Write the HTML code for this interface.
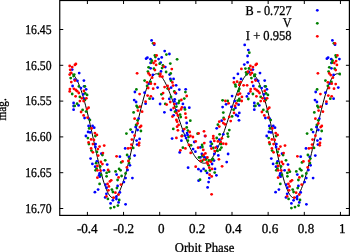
<!DOCTYPE html>
<html><head><meta charset="utf-8"><title>Light curve</title>
<style>
html,body{margin:0;padding:0;background:#fff;}
body{width:350px;height:252px;overflow:hidden;}
svg{display:block;}
text{text-rendering:geometricPrecision;stroke:#000;stroke-width:0.3px;font-family:"Liberation Serif","Times New Roman",serif;font-size:13.5px;fill:#000;}
.ax{stroke:#000;stroke-width:1.2;fill:none;}
.tk{stroke:#000;stroke-width:1;fill:none;}
.b{fill:#0000ff}.g{fill:#008000}.r{fill:#ff0000}
</style></head><body>
<svg width="350" height="252" viewBox="0 0 350 252">
<rect x="0" y="0" width="350" height="252" fill="#fff"/>

<path d="M69.32 72.83 L70.23 72.89 L71.14 73.16 L72.05 73.65 L72.95 74.37 L73.86 75.30 L74.77 76.45 L75.67 77.81 L76.58 79.39 L77.49 81.17 L78.39 83.17 L79.30 85.36 L80.21 87.75 L81.11 90.32 L82.02 93.08 L82.93 96.02 L83.83 99.12 L84.74 102.38 L85.65 105.79 L86.55 109.34 L87.46 113.01 L88.37 116.80 L89.27 120.69 L90.18 124.66 L91.09 128.71 L91.99 132.81 L92.90 136.95 L93.81 141.10 L94.71 145.26 L95.62 149.39 L96.53 153.49 L97.43 157.52 L98.34 161.46 L99.25 165.30 L100.16 169.01 L101.06 172.57 L101.97 175.97 L102.88 179.17 L103.78 182.17 L104.69 184.95 L105.60 187.48 L106.50 189.77 L107.41 191.79 L108.32 193.53 L109.22 194.99 L110.13 196.16 L111.04 197.04 L111.94 197.62 L112.85 197.90 L113.76 197.89 L114.66 197.59 L115.57 197.00 L116.48 196.12 L117.38 194.98 L118.29 193.57 L119.20 191.90 L120.10 189.99 L121.01 187.84 L121.92 185.46 L122.82 182.88 L123.73 180.10 L124.64 177.13 L125.54 173.98 L126.45 170.68 L127.36 167.23 L128.27 163.65 L129.17 159.95 L130.08 156.14 L130.99 152.25 L131.89 148.29 L132.80 144.27 L133.71 140.21 L134.61 136.13 L135.52 132.04 L136.43 127.97 L137.33 123.93 L138.24 119.94 L139.15 116.02 L140.05 112.18 L140.96 108.45 L141.87 104.83 L142.77 101.36 L143.68 98.04 L144.59 94.89 L145.49 91.93 L146.40 89.16 L147.31 86.59 L148.21 84.25 L149.12 82.13 L150.03 80.25 L150.93 78.60 L151.84 77.19 L152.75 76.03 L153.65 75.11 L154.56 74.43 L155.47 73.99 L156.38 73.78 L157.28 73.80 L158.19 74.05 L159.10 74.52 L160.00 75.19 L160.91 76.06 L161.82 77.12 L162.72 78.35 L163.63 79.76 L164.54 81.33 L165.44 83.05 L166.35 84.90 L167.26 86.88 L168.16 88.98 L169.07 91.18 L169.98 93.48 L170.88 95.86 L171.79 98.31 L172.70 100.82 L173.60 103.39 L174.51 105.99 L175.42 108.63 L176.32 111.29 L177.23 113.95 L178.14 116.62 L179.04 119.28 L179.95 121.92 L180.86 124.53 L181.76 127.11 L182.67 129.64 L183.58 132.12 L184.49 134.54 L185.39 136.89 L186.30 139.17 L187.21 141.38 L188.11 143.50 L189.02 145.53 L189.93 147.46 L190.83 149.30 L191.74 151.04 L192.65 152.68 L193.55 154.21 L194.46 155.62 L195.37 156.93 L196.27 158.11 L197.18 159.18 L198.09 160.13 L198.99 160.96 L199.90 161.66 L200.81 162.23 L201.71 162.67 L202.62 162.98 L203.53 163.16 L204.43 163.20 L205.34 163.10 L206.25 162.86 L207.15 162.49 L208.06 161.97 L208.97 161.31 L209.87 160.50 L210.78 159.56 L211.69 158.48 L212.60 157.26 L213.50 155.90 L214.41 154.41 L215.32 152.79 L216.22 151.05 L217.13 149.18 L218.04 147.20 L218.94 145.11 L219.85 142.92 L220.76 140.63 L221.66 138.25 L222.57 135.79 L223.48 133.26 L224.38 130.66 L225.29 128.00 L226.20 125.29 L227.10 122.55 L228.01 119.78 L228.92 116.98 L229.82 114.18 L230.73 111.38 L231.64 108.59 L232.54 105.83 L233.45 103.10 L234.36 100.42 L235.26 97.79 L236.17 95.23 L237.08 92.76 L237.98 90.38 L238.89 88.10 L239.80 85.95 L240.71 83.92 L241.61 82.03 L242.52 80.29 L243.43 78.71 L244.33 77.30 L245.24 76.07 L246.15 75.03 L247.05 74.18 L247.96 73.53 L248.87 73.09 L249.77 72.86 L250.68 72.84 L251.59 73.04 L252.49 73.46 L253.40 74.10 L254.31 74.96 L255.21 76.04 L256.12 77.33 L257.03 78.84 L257.93 80.56 L258.84 82.48 L259.75 84.61 L260.65 86.93 L261.56 89.44 L262.47 92.14 L263.37 95.02 L264.28 98.07 L265.19 101.28 L266.09 104.64 L267.00 108.14 L267.91 111.77 L268.81 115.52 L269.72 119.38 L270.63 123.33 L271.54 127.35 L272.44 131.44 L273.35 135.57 L274.26 139.72 L275.16 143.88 L276.07 148.02 L276.98 152.13 L277.88 156.18 L278.79 160.16 L279.70 164.03 L280.60 167.79 L281.51 171.40 L282.42 174.85 L283.32 178.12 L284.23 181.19 L285.14 184.05 L286.04 186.67 L286.95 189.03 L287.86 191.14 L288.76 192.98 L289.67 194.53 L290.58 195.80 L291.48 196.78 L292.39 197.46 L293.30 197.84 L294.20 197.93 L295.11 197.72 L296.02 197.22 L296.92 196.44 L297.83 195.39 L298.74 194.07 L299.65 192.48 L300.55 190.65 L301.46 188.58 L302.37 186.28 L303.27 183.76 L304.18 181.05 L305.09 178.14 L305.99 175.05 L306.90 171.80 L307.81 168.40 L308.71 164.86 L309.62 161.19 L310.53 157.42 L311.43 153.56 L312.34 149.62 L313.25 145.61 L314.15 141.57 L315.06 137.49 L315.97 133.41 L316.87 129.33 L317.78 125.27 L318.69 121.26 L319.59 117.32 L320.50 113.45 L321.41 109.68 L322.31 106.02 L323.22 102.50 L324.13 99.13 L325.03 95.92 L325.94 92.89 L326.85 90.06 L327.76 87.42 L328.66 85.01 L329.57 82.81 L330.48 80.85 L331.38 79.12 L332.29 77.63 L333.20 76.39 L334.10 75.39 L335.01 74.63 L335.92 74.11 L336.82 73.82 L337.73 73.77 L338.64 73.95 L339.54 74.34 L340.45 74.94" stroke="#000" stroke-width="1.0" fill="none" stroke-linejoin="round"/>
<g class="b">
<circle cx="164.7" cy="51.1" r="1.4"/>
<circle cx="169.4" cy="54.0" r="1.4"/>
<circle cx="161.7" cy="57.4" r="1.4"/>
<circle cx="160.7" cy="62.6" r="1.4"/>
<circle cx="165.3" cy="67.1" r="1.4"/>
<circle cx="161.0" cy="71.4" r="1.4"/>
<circle cx="169.6" cy="74.6" r="1.4"/>
<circle cx="170.4" cy="78.9" r="1.4"/>
<circle cx="173.6" cy="78.9" r="1.4"/>
<circle cx="176.1" cy="85.3" r="1.4"/>
<circle cx="171.1" cy="87.7" r="1.4"/>
<circle cx="179.3" cy="89.6" r="1.4"/>
<circle cx="185.7" cy="89.3" r="1.4"/>
<circle cx="175.9" cy="93.4" r="1.4"/>
<circle cx="169.3" cy="98.9" r="1.4"/>
<circle cx="174.7" cy="99.3" r="1.4"/>
<circle cx="174.3" cy="101.3" r="1.4"/>
<circle cx="160.1" cy="104.0" r="1.4"/>
<circle cx="176.4" cy="103.7" r="1.4"/>
<circle cx="182.9" cy="103.9" r="1.4"/>
<circle cx="184.6" cy="107.7" r="1.4"/>
<circle cx="189.3" cy="107.7" r="1.4"/>
<circle cx="171.0" cy="109.9" r="1.4"/>
<circle cx="176.4" cy="110.3" r="1.4"/>
<circle cx="164.4" cy="112.3" r="1.4"/>
<circle cx="173.6" cy="115.3" r="1.4"/>
<circle cx="186.7" cy="123.0" r="1.4"/>
<circle cx="182.9" cy="131.0" r="1.4"/>
<circle cx="187.1" cy="133.1" r="1.4"/>
<circle cx="187.6" cy="135.1" r="1.4"/>
<circle cx="185.0" cy="135.6" r="1.4"/>
<circle cx="172.1" cy="138.6" r="1.4"/>
<circle cx="186.1" cy="138.1" r="1.4"/>
<circle cx="181.4" cy="140.7" r="1.4"/>
<circle cx="194.3" cy="142.0" r="1.4"/>
<circle cx="210.7" cy="142.0" r="1.4"/>
<circle cx="210.7" cy="146.0" r="1.4"/>
<circle cx="200.4" cy="147.4" r="1.4"/>
<circle cx="193.1" cy="149.1" r="1.4"/>
<circle cx="179.7" cy="152.4" r="1.4"/>
<circle cx="195.4" cy="151.7" r="1.4"/>
<circle cx="201.9" cy="153.9" r="1.4"/>
<circle cx="214.3" cy="153.9" r="1.4"/>
<circle cx="200.4" cy="157.4" r="1.4"/>
<circle cx="204.4" cy="157.2" r="1.4"/>
<circle cx="212.1" cy="164.0" r="1.4"/>
<circle cx="214.0" cy="160.6" r="1.4"/>
<circle cx="188.1" cy="167.7" r="1.4"/>
<circle cx="198.4" cy="169.2" r="1.4"/>
<circle cx="203.6" cy="168.9" r="1.4"/>
<circle cx="201.0" cy="171.0" r="1.4"/>
<circle cx="226.7" cy="162.1" r="1.4"/>
<circle cx="215.0" cy="168.9" r="1.4"/>
<circle cx="207.1" cy="172.9" r="1.4"/>
<circle cx="216.4" cy="175.3" r="1.4"/>
<circle cx="209.3" cy="178.1" r="1.4"/>
<circle cx="198.6" cy="180.7" r="1.4"/>
<circle cx="208.6" cy="182.1" r="1.4"/>
<circle cx="207.6" cy="187.4" r="1.4"/>
<circle cx="216.7" cy="128.3" r="1.4"/>
<circle cx="223.3" cy="134.3" r="1.4"/>
<circle cx="205.0" cy="136.1" r="1.4"/>
<circle cx="219.3" cy="139.7" r="1.4"/>
<circle cx="217.1" cy="146.6" r="1.4"/>
<circle cx="228.1" cy="154.0" r="1.4"/>
<circle cx="218.3" cy="155.4" r="1.4"/>
<circle cx="206.4" cy="158.0" r="1.4"/>
<circle cx="232.1" cy="96.1" r="1.4"/>
<circle cx="248.6" cy="93.6" r="1.4"/>
<circle cx="246.9" cy="96.4" r="1.4"/>
<circle cx="254.3" cy="102.9" r="1.4"/>
<circle cx="254.3" cy="106.0" r="1.4"/>
<circle cx="254.3" cy="109.7" r="1.4"/>
<circle cx="234.7" cy="101.1" r="1.4"/>
<circle cx="226.1" cy="104.3" r="1.4"/>
<circle cx="238.6" cy="104.7" r="1.4"/>
<circle cx="222.6" cy="107.1" r="1.4"/>
<circle cx="231.4" cy="106.9" r="1.4"/>
<circle cx="235.4" cy="107.9" r="1.4"/>
<circle cx="239.3" cy="112.9" r="1.4"/>
<circle cx="236.1" cy="115.0" r="1.4"/>
<circle cx="237.9" cy="116.0" r="1.4"/>
<circle cx="221.7" cy="120.7" r="1.4"/>
<circle cx="239.0" cy="120.3" r="1.4"/>
<circle cx="247.6" cy="56.0" r="1.4"/>
<circle cx="247.6" cy="62.4" r="1.4"/>
<circle cx="244.3" cy="64.6" r="1.4"/>
<circle cx="252.9" cy="69.6" r="1.4"/>
<circle cx="249.0" cy="72.0" r="1.4"/>
<circle cx="237.9" cy="73.9" r="1.4"/>
<circle cx="260.0" cy="73.1" r="1.4"/>
<circle cx="233.9" cy="78.1" r="1.4"/>
<circle cx="241.1" cy="78.9" r="1.4"/>
<circle cx="255.4" cy="79.6" r="1.4"/>
<circle cx="258.2" cy="80.8" r="1.4"/>
<circle cx="264.7" cy="80.6" r="1.4"/>
<circle cx="253.3" cy="86.0" r="1.4"/>
<circle cx="261.6" cy="88.1" r="1.4"/>
<circle cx="264.9" cy="86.3" r="1.4"/>
<circle cx="266.9" cy="89.3" r="1.4"/>
<circle cx="244.7" cy="44.9" r="1.4"/>
<circle cx="248.3" cy="50.1" r="1.4"/>
<circle cx="264.0" cy="94.4" r="1.4"/>
<circle cx="265.0" cy="98.7" r="1.4"/>
<circle cx="259.3" cy="105.4" r="1.4"/>
<circle cx="265.4" cy="118.0" r="1.4"/>
<circle cx="269.7" cy="118.7" r="1.4"/>
<circle cx="269.3" cy="126.0" r="1.4"/>
<circle cx="273.3" cy="126.0" r="1.4"/>
<circle cx="275.0" cy="127.7" r="1.4"/>
<circle cx="268.9" cy="132.0" r="1.4"/>
<circle cx="271.0" cy="132.4" r="1.4"/>
<circle cx="266.7" cy="136.0" r="1.4"/>
<circle cx="276.4" cy="144.1" r="1.4"/>
<circle cx="276.1" cy="147.0" r="1.4"/>
<circle cx="282.1" cy="153.7" r="1.4"/>
<circle cx="300.7" cy="156.7" r="1.4"/>
<circle cx="271.3" cy="158.6" r="1.4"/>
<circle cx="277.6" cy="161.3" r="1.4"/>
<circle cx="273.1" cy="163.9" r="1.4"/>
<circle cx="288.0" cy="164.6" r="1.4"/>
<circle cx="310.6" cy="165.3" r="1.4"/>
<circle cx="276.0" cy="166.7" r="1.4"/>
<circle cx="284.6" cy="170.3" r="1.4"/>
<circle cx="308.4" cy="170.0" r="1.4"/>
<circle cx="280.3" cy="173.4" r="1.4"/>
<circle cx="297.3" cy="174.6" r="1.4"/>
<circle cx="279.9" cy="175.3" r="1.4"/>
<circle cx="280.6" cy="176.7" r="1.4"/>
<circle cx="306.3" cy="178.1" r="1.4"/>
<circle cx="304.6" cy="182.1" r="1.4"/>
<circle cx="286.3" cy="184.6" r="1.4"/>
<circle cx="298.4" cy="186.0" r="1.4"/>
<circle cx="287.4" cy="187.7" r="1.4"/>
<circle cx="278.9" cy="189.6" r="1.4"/>
<circle cx="275.6" cy="192.2" r="1.4"/>
<circle cx="300.7" cy="192.4" r="1.4"/>
<circle cx="287.2" cy="193.8" r="1.4"/>
<circle cx="297.1" cy="196.7" r="1.4"/>
<circle cx="286.0" cy="197.4" r="1.4"/>
<circle cx="297.1" cy="199.1" r="1.4"/>
<circle cx="293.6" cy="200.3" r="1.4"/>
<circle cx="299.3" cy="202.4" r="1.4"/>
<circle cx="291.4" cy="203.4" r="1.4"/>
<circle cx="306.4" cy="204.3" r="1.4"/>
<circle cx="316.4" cy="127.1" r="1.4"/>
<circle cx="313.1" cy="178.1" r="1.4"/>
<circle cx="318.3" cy="130.0" r="1.4"/>
<circle cx="313.1" cy="132.1" r="1.4"/>
<circle cx="320.4" cy="138.9" r="1.4"/>
<circle cx="317.4" cy="140.6" r="1.4"/>
<circle cx="317.9" cy="144.6" r="1.4"/>
<circle cx="306.0" cy="148.4" r="1.4"/>
<circle cx="315.3" cy="155.6" r="1.4"/>
<circle cx="309.7" cy="157.0" r="1.4"/>
<circle cx="315.7" cy="92.0" r="1.4"/>
<circle cx="325.4" cy="92.7" r="1.4"/>
<circle cx="333.6" cy="98.7" r="1.4"/>
<circle cx="315.0" cy="100.1" r="1.4"/>
<circle cx="316.9" cy="102.0" r="1.4"/>
<circle cx="326.4" cy="103.7" r="1.4"/>
<circle cx="319.3" cy="118.7" r="1.4"/>
<circle cx="326.9" cy="58.7" r="1.4"/>
<circle cx="331.3" cy="59.2" r="1.4"/>
<circle cx="339.4" cy="59.1" r="1.4"/>
<circle cx="331.4" cy="68.3" r="1.4"/>
<circle cx="333.6" cy="74.9" r="1.4"/>
<circle cx="329.7" cy="83.7" r="1.4"/>
<circle cx="338.3" cy="87.6" r="1.4"/>
<circle cx="332.4" cy="40.4" r="1.4"/>
<circle cx="335.0" cy="44.7" r="1.4"/>
<circle cx="328.1" cy="57.7" r="1.4"/>
<circle cx="331.4" cy="62.9" r="1.4"/>
<circle cx="73.6" cy="102.9" r="1.4"/>
<circle cx="73.6" cy="106.0" r="1.4"/>
<circle cx="73.6" cy="109.7" r="1.4"/>
<circle cx="72.2" cy="69.6" r="1.4"/>
<circle cx="79.2" cy="73.1" r="1.4"/>
<circle cx="74.7" cy="79.6" r="1.4"/>
<circle cx="77.4" cy="80.8" r="1.4"/>
<circle cx="83.9" cy="80.6" r="1.4"/>
<circle cx="72.6" cy="86.0" r="1.4"/>
<circle cx="80.9" cy="88.1" r="1.4"/>
<circle cx="84.1" cy="86.3" r="1.4"/>
<circle cx="86.1" cy="89.3" r="1.4"/>
<circle cx="83.2" cy="94.4" r="1.4"/>
<circle cx="84.2" cy="98.7" r="1.4"/>
<circle cx="78.6" cy="105.4" r="1.4"/>
<circle cx="84.6" cy="118.0" r="1.4"/>
<circle cx="88.9" cy="118.7" r="1.4"/>
<circle cx="88.6" cy="126.0" r="1.4"/>
<circle cx="92.6" cy="126.0" r="1.4"/>
<circle cx="94.2" cy="127.7" r="1.4"/>
<circle cx="88.1" cy="132.0" r="1.4"/>
<circle cx="90.2" cy="132.4" r="1.4"/>
<circle cx="85.9" cy="136.0" r="1.4"/>
<circle cx="95.6" cy="144.1" r="1.4"/>
<circle cx="95.4" cy="147.0" r="1.4"/>
<circle cx="101.4" cy="153.7" r="1.4"/>
<circle cx="119.9" cy="156.7" r="1.4"/>
<circle cx="90.6" cy="158.6" r="1.4"/>
<circle cx="96.9" cy="161.3" r="1.4"/>
<circle cx="92.4" cy="163.9" r="1.4"/>
<circle cx="107.2" cy="164.6" r="1.4"/>
<circle cx="129.9" cy="165.3" r="1.4"/>
<circle cx="95.2" cy="166.7" r="1.4"/>
<circle cx="103.9" cy="170.3" r="1.4"/>
<circle cx="127.6" cy="170.0" r="1.4"/>
<circle cx="99.6" cy="173.4" r="1.4"/>
<circle cx="116.6" cy="174.6" r="1.4"/>
<circle cx="99.1" cy="175.3" r="1.4"/>
<circle cx="99.9" cy="176.7" r="1.4"/>
<circle cx="125.6" cy="178.1" r="1.4"/>
<circle cx="123.9" cy="182.1" r="1.4"/>
<circle cx="105.6" cy="184.6" r="1.4"/>
<circle cx="117.6" cy="186.0" r="1.4"/>
<circle cx="106.6" cy="187.7" r="1.4"/>
<circle cx="98.1" cy="189.6" r="1.4"/>
<circle cx="94.9" cy="192.2" r="1.4"/>
<circle cx="119.9" cy="192.4" r="1.4"/>
<circle cx="106.4" cy="193.8" r="1.4"/>
<circle cx="116.4" cy="196.7" r="1.4"/>
<circle cx="105.2" cy="197.4" r="1.4"/>
<circle cx="116.4" cy="199.1" r="1.4"/>
<circle cx="112.9" cy="200.3" r="1.4"/>
<circle cx="118.6" cy="202.4" r="1.4"/>
<circle cx="110.6" cy="203.4" r="1.4"/>
<circle cx="125.6" cy="204.3" r="1.4"/>
<circle cx="135.6" cy="127.1" r="1.4"/>
<circle cx="132.4" cy="178.1" r="1.4"/>
<circle cx="137.6" cy="130.0" r="1.4"/>
<circle cx="132.4" cy="132.1" r="1.4"/>
<circle cx="139.6" cy="138.9" r="1.4"/>
<circle cx="136.6" cy="140.6" r="1.4"/>
<circle cx="137.1" cy="144.6" r="1.4"/>
<circle cx="125.2" cy="148.4" r="1.4"/>
<circle cx="134.6" cy="155.6" r="1.4"/>
<circle cx="128.9" cy="157.0" r="1.4"/>
<circle cx="134.9" cy="92.0" r="1.4"/>
<circle cx="144.6" cy="92.7" r="1.4"/>
<circle cx="152.9" cy="98.7" r="1.4"/>
<circle cx="134.2" cy="100.1" r="1.4"/>
<circle cx="136.1" cy="102.0" r="1.4"/>
<circle cx="145.6" cy="103.7" r="1.4"/>
<circle cx="138.6" cy="118.7" r="1.4"/>
<circle cx="146.1" cy="58.7" r="1.4"/>
<circle cx="150.6" cy="59.2" r="1.4"/>
<circle cx="158.6" cy="59.1" r="1.4"/>
<circle cx="150.6" cy="68.3" r="1.4"/>
<circle cx="152.9" cy="74.9" r="1.4"/>
<circle cx="148.9" cy="83.7" r="1.4"/>
<circle cx="157.6" cy="87.6" r="1.4"/>
<circle cx="151.6" cy="40.4" r="1.4"/>
<circle cx="154.2" cy="44.7" r="1.4"/>
<circle cx="147.4" cy="57.7" r="1.4"/>
<circle cx="150.6" cy="62.9" r="1.4"/>
<circle cx="317.3" cy="10.3" r="1.4"/>
</g>
<g class="g">
<circle cx="166.4" cy="54.6" r="1.4"/>
<circle cx="177.1" cy="59.3" r="1.4"/>
<circle cx="159.7" cy="63.7" r="1.4"/>
<circle cx="170.3" cy="63.6" r="1.4"/>
<circle cx="162.9" cy="65.4" r="1.4"/>
<circle cx="162.1" cy="68.1" r="1.4"/>
<circle cx="166.1" cy="72.0" r="1.4"/>
<circle cx="170.7" cy="73.4" r="1.4"/>
<circle cx="171.0" cy="80.7" r="1.4"/>
<circle cx="167.6" cy="88.6" r="1.4"/>
<circle cx="185.4" cy="92.1" r="1.4"/>
<circle cx="174.3" cy="91.4" r="1.4"/>
<circle cx="161.4" cy="94.3" r="1.4"/>
<circle cx="171.0" cy="96.9" r="1.4"/>
<circle cx="184.3" cy="98.6" r="1.4"/>
<circle cx="179.3" cy="100.9" r="1.4"/>
<circle cx="165.3" cy="103.9" r="1.4"/>
<circle cx="178.6" cy="103.1" r="1.4"/>
<circle cx="176.4" cy="106.6" r="1.4"/>
<circle cx="185.0" cy="109.4" r="1.4"/>
<circle cx="175.0" cy="111.7" r="1.4"/>
<circle cx="180.0" cy="114.6" r="1.4"/>
<circle cx="180.7" cy="117.0" r="1.4"/>
<circle cx="190.3" cy="120.7" r="1.4"/>
<circle cx="186.7" cy="127.4" r="1.4"/>
<circle cx="173.3" cy="128.9" r="1.4"/>
<circle cx="187.9" cy="130.6" r="1.4"/>
<circle cx="197.6" cy="133.7" r="1.4"/>
<circle cx="182.1" cy="135.7" r="1.4"/>
<circle cx="188.6" cy="137.1" r="1.4"/>
<circle cx="187.9" cy="140.7" r="1.4"/>
<circle cx="202.1" cy="144.9" r="1.4"/>
<circle cx="191.0" cy="145.3" r="1.4"/>
<circle cx="211.9" cy="143.9" r="1.4"/>
<circle cx="182.9" cy="147.7" r="1.4"/>
<circle cx="202.4" cy="147.1" r="1.4"/>
<circle cx="202.4" cy="156.0" r="1.4"/>
<circle cx="199.0" cy="157.4" r="1.4"/>
<circle cx="205.9" cy="159.6" r="1.4"/>
<circle cx="202.3" cy="160.8" r="1.4"/>
<circle cx="208.9" cy="160.5" r="1.4"/>
<circle cx="211.9" cy="160.2" r="1.4"/>
<circle cx="208.6" cy="165.3" r="1.4"/>
<circle cx="212.9" cy="158.9" r="1.4"/>
<circle cx="205.7" cy="170.8" r="1.4"/>
<circle cx="209.9" cy="170.4" r="1.4"/>
<circle cx="214.7" cy="172.6" r="1.4"/>
<circle cx="200.0" cy="179.7" r="1.4"/>
<circle cx="217.9" cy="124.7" r="1.4"/>
<circle cx="229.3" cy="130.1" r="1.4"/>
<circle cx="219.6" cy="134.3" r="1.4"/>
<circle cx="227.6" cy="133.7" r="1.4"/>
<circle cx="228.1" cy="136.6" r="1.4"/>
<circle cx="216.7" cy="138.0" r="1.4"/>
<circle cx="221.0" cy="144.0" r="1.4"/>
<circle cx="213.3" cy="148.0" r="1.4"/>
<circle cx="221.4" cy="147.6" r="1.4"/>
<circle cx="220.0" cy="149.7" r="1.4"/>
<circle cx="217.6" cy="150.9" r="1.4"/>
<circle cx="238.6" cy="91.1" r="1.4"/>
<circle cx="239.3" cy="98.9" r="1.4"/>
<circle cx="252.9" cy="94.0" r="1.4"/>
<circle cx="248.3" cy="99.0" r="1.4"/>
<circle cx="222.6" cy="100.3" r="1.4"/>
<circle cx="227.7" cy="100.9" r="1.4"/>
<circle cx="237.6" cy="100.7" r="1.4"/>
<circle cx="239.6" cy="100.6" r="1.4"/>
<circle cx="233.6" cy="109.7" r="1.4"/>
<circle cx="223.3" cy="112.6" r="1.4"/>
<circle cx="232.1" cy="116.4" r="1.4"/>
<circle cx="223.6" cy="117.9" r="1.4"/>
<circle cx="245.4" cy="68.6" r="1.4"/>
<circle cx="249.0" cy="68.5" r="1.4"/>
<circle cx="246.1" cy="72.4" r="1.4"/>
<circle cx="246.7" cy="74.3" r="1.4"/>
<circle cx="255.0" cy="74.6" r="1.4"/>
<circle cx="254.3" cy="76.0" r="1.4"/>
<circle cx="251.4" cy="78.1" r="1.4"/>
<circle cx="239.7" cy="83.1" r="1.4"/>
<circle cx="235.3" cy="84.6" r="1.4"/>
<circle cx="235.7" cy="86.4" r="1.4"/>
<circle cx="259.6" cy="86.4" r="1.4"/>
<circle cx="265.7" cy="86.4" r="1.4"/>
<circle cx="239.3" cy="88.9" r="1.4"/>
<circle cx="249.3" cy="52.7" r="1.4"/>
<circle cx="266.0" cy="93.4" r="1.4"/>
<circle cx="267.9" cy="94.9" r="1.4"/>
<circle cx="260.7" cy="96.9" r="1.4"/>
<circle cx="265.7" cy="100.1" r="1.4"/>
<circle cx="257.9" cy="103.7" r="1.4"/>
<circle cx="255.4" cy="105.9" r="1.4"/>
<circle cx="263.3" cy="109.9" r="1.4"/>
<circle cx="266.9" cy="111.6" r="1.4"/>
<circle cx="270.7" cy="120.1" r="1.4"/>
<circle cx="270.0" cy="128.4" r="1.4"/>
<circle cx="276.1" cy="136.0" r="1.4"/>
<circle cx="268.6" cy="138.1" r="1.4"/>
<circle cx="269.7" cy="144.1" r="1.4"/>
<circle cx="272.1" cy="150.6" r="1.4"/>
<circle cx="277.6" cy="152.0" r="1.4"/>
<circle cx="283.1" cy="155.1" r="1.4"/>
<circle cx="286.0" cy="160.3" r="1.4"/>
<circle cx="276.9" cy="163.2" r="1.4"/>
<circle cx="302.0" cy="162.4" r="1.4"/>
<circle cx="309.9" cy="163.1" r="1.4"/>
<circle cx="281.0" cy="166.5" r="1.4"/>
<circle cx="277.4" cy="168.6" r="1.4"/>
<circle cx="299.9" cy="168.9" r="1.4"/>
<circle cx="276.3" cy="170.3" r="1.4"/>
<circle cx="301.3" cy="170.3" r="1.4"/>
<circle cx="296.3" cy="171.4" r="1.4"/>
<circle cx="289.9" cy="171.7" r="1.4"/>
<circle cx="287.4" cy="172.9" r="1.4"/>
<circle cx="306.3" cy="173.4" r="1.4"/>
<circle cx="282.0" cy="174.9" r="1.4"/>
<circle cx="287.4" cy="176.3" r="1.4"/>
<circle cx="302.3" cy="176.0" r="1.4"/>
<circle cx="298.4" cy="180.0" r="1.4"/>
<circle cx="280.3" cy="183.9" r="1.4"/>
<circle cx="297.7" cy="188.1" r="1.4"/>
<circle cx="292.7" cy="189.6" r="1.4"/>
<circle cx="293.6" cy="192.0" r="1.4"/>
<circle cx="288.6" cy="198.9" r="1.4"/>
<circle cx="300.0" cy="199.9" r="1.4"/>
<circle cx="298.6" cy="205.6" r="1.4"/>
<circle cx="295.0" cy="207.1" r="1.4"/>
<circle cx="291.4" cy="208.1" r="1.4"/>
<circle cx="311.4" cy="129.6" r="1.4"/>
<circle cx="321.7" cy="131.0" r="1.4"/>
<circle cx="307.1" cy="133.6" r="1.4"/>
<circle cx="314.0" cy="147.9" r="1.4"/>
<circle cx="307.9" cy="155.0" r="1.4"/>
<circle cx="310.4" cy="158.6" r="1.4"/>
<circle cx="330.3" cy="98.7" r="1.4"/>
<circle cx="317.4" cy="105.9" r="1.4"/>
<circle cx="318.3" cy="107.4" r="1.4"/>
<circle cx="314.3" cy="112.4" r="1.4"/>
<circle cx="318.3" cy="120.3" r="1.4"/>
<circle cx="316.9" cy="124.9" r="1.4"/>
<circle cx="332.6" cy="60.7" r="1.4"/>
<circle cx="332.1" cy="62.6" r="1.4"/>
<circle cx="329.3" cy="67.3" r="1.4"/>
<circle cx="334.7" cy="68.7" r="1.4"/>
<circle cx="328.6" cy="71.6" r="1.4"/>
<circle cx="339.7" cy="74.0" r="1.4"/>
<circle cx="325.4" cy="80.6" r="1.4"/>
<circle cx="331.4" cy="82.0" r="1.4"/>
<circle cx="327.9" cy="85.9" r="1.4"/>
<circle cx="317.1" cy="89.4" r="1.4"/>
<circle cx="333.9" cy="43.3" r="1.4"/>
<circle cx="335.7" cy="55.4" r="1.4"/>
<circle cx="336.1" cy="57.1" r="1.4"/>
<circle cx="72.2" cy="94.0" r="1.4"/>
<circle cx="74.2" cy="74.6" r="1.4"/>
<circle cx="73.6" cy="76.0" r="1.4"/>
<circle cx="70.7" cy="78.1" r="1.4"/>
<circle cx="78.9" cy="86.4" r="1.4"/>
<circle cx="84.9" cy="86.4" r="1.4"/>
<circle cx="85.2" cy="93.4" r="1.4"/>
<circle cx="87.1" cy="94.9" r="1.4"/>
<circle cx="79.9" cy="96.9" r="1.4"/>
<circle cx="84.9" cy="100.1" r="1.4"/>
<circle cx="77.1" cy="103.7" r="1.4"/>
<circle cx="74.7" cy="105.9" r="1.4"/>
<circle cx="82.6" cy="109.9" r="1.4"/>
<circle cx="86.1" cy="111.6" r="1.4"/>
<circle cx="89.9" cy="120.1" r="1.4"/>
<circle cx="89.2" cy="128.4" r="1.4"/>
<circle cx="95.4" cy="136.0" r="1.4"/>
<circle cx="87.9" cy="138.1" r="1.4"/>
<circle cx="88.9" cy="144.1" r="1.4"/>
<circle cx="91.4" cy="150.6" r="1.4"/>
<circle cx="96.9" cy="152.0" r="1.4"/>
<circle cx="102.4" cy="155.1" r="1.4"/>
<circle cx="105.2" cy="160.3" r="1.4"/>
<circle cx="96.1" cy="163.2" r="1.4"/>
<circle cx="121.2" cy="162.4" r="1.4"/>
<circle cx="129.1" cy="163.1" r="1.4"/>
<circle cx="100.2" cy="166.5" r="1.4"/>
<circle cx="96.6" cy="168.6" r="1.4"/>
<circle cx="119.1" cy="168.9" r="1.4"/>
<circle cx="95.6" cy="170.3" r="1.4"/>
<circle cx="120.6" cy="170.3" r="1.4"/>
<circle cx="115.6" cy="171.4" r="1.4"/>
<circle cx="109.1" cy="171.7" r="1.4"/>
<circle cx="106.6" cy="172.9" r="1.4"/>
<circle cx="125.6" cy="173.4" r="1.4"/>
<circle cx="101.2" cy="174.9" r="1.4"/>
<circle cx="106.6" cy="176.3" r="1.4"/>
<circle cx="121.6" cy="176.0" r="1.4"/>
<circle cx="117.6" cy="180.0" r="1.4"/>
<circle cx="99.6" cy="183.9" r="1.4"/>
<circle cx="116.9" cy="188.1" r="1.4"/>
<circle cx="111.9" cy="189.6" r="1.4"/>
<circle cx="112.9" cy="192.0" r="1.4"/>
<circle cx="107.9" cy="198.9" r="1.4"/>
<circle cx="119.2" cy="199.9" r="1.4"/>
<circle cx="117.9" cy="205.6" r="1.4"/>
<circle cx="114.2" cy="207.1" r="1.4"/>
<circle cx="110.6" cy="208.1" r="1.4"/>
<circle cx="130.6" cy="129.6" r="1.4"/>
<circle cx="140.9" cy="131.0" r="1.4"/>
<circle cx="126.4" cy="133.6" r="1.4"/>
<circle cx="133.2" cy="147.9" r="1.4"/>
<circle cx="127.1" cy="155.0" r="1.4"/>
<circle cx="129.6" cy="158.6" r="1.4"/>
<circle cx="149.6" cy="98.7" r="1.4"/>
<circle cx="136.6" cy="105.9" r="1.4"/>
<circle cx="137.6" cy="107.4" r="1.4"/>
<circle cx="133.6" cy="112.4" r="1.4"/>
<circle cx="137.6" cy="120.3" r="1.4"/>
<circle cx="136.1" cy="124.9" r="1.4"/>
<circle cx="151.9" cy="60.7" r="1.4"/>
<circle cx="151.4" cy="62.6" r="1.4"/>
<circle cx="148.6" cy="67.3" r="1.4"/>
<circle cx="153.9" cy="68.7" r="1.4"/>
<circle cx="147.9" cy="71.6" r="1.4"/>
<circle cx="158.9" cy="74.0" r="1.4"/>
<circle cx="144.6" cy="80.6" r="1.4"/>
<circle cx="150.6" cy="82.0" r="1.4"/>
<circle cx="147.1" cy="85.9" r="1.4"/>
<circle cx="136.4" cy="89.4" r="1.4"/>
<circle cx="153.1" cy="43.3" r="1.4"/>
<circle cx="154.9" cy="55.4" r="1.4"/>
<circle cx="155.4" cy="57.1" r="1.4"/>
<circle cx="317.3" cy="23.3" r="1.4"/>
</g>
<g class="r">
<circle cx="163.7" cy="66.6" r="1.4"/>
<circle cx="171.8" cy="69.1" r="1.4"/>
<circle cx="160.4" cy="73.9" r="1.4"/>
<circle cx="160.0" cy="76.3" r="1.4"/>
<circle cx="162.4" cy="76.7" r="1.4"/>
<circle cx="172.4" cy="82.4" r="1.4"/>
<circle cx="173.1" cy="85.6" r="1.4"/>
<circle cx="164.6" cy="87.1" r="1.4"/>
<circle cx="167.6" cy="86.0" r="1.4"/>
<circle cx="168.9" cy="88.9" r="1.4"/>
<circle cx="175.0" cy="92.6" r="1.4"/>
<circle cx="163.1" cy="93.1" r="1.4"/>
<circle cx="186.7" cy="96.0" r="1.4"/>
<circle cx="162.9" cy="98.6" r="1.4"/>
<circle cx="181.4" cy="100.0" r="1.4"/>
<circle cx="170.3" cy="102.0" r="1.4"/>
<circle cx="166.7" cy="104.6" r="1.4"/>
<circle cx="174.3" cy="104.1" r="1.4"/>
<circle cx="173.6" cy="108.0" r="1.4"/>
<circle cx="181.9" cy="107.4" r="1.4"/>
<circle cx="181.0" cy="109.4" r="1.4"/>
<circle cx="178.6" cy="110.9" r="1.4"/>
<circle cx="176.4" cy="113.1" r="1.4"/>
<circle cx="185.4" cy="113.7" r="1.4"/>
<circle cx="177.9" cy="115.6" r="1.4"/>
<circle cx="172.4" cy="116.6" r="1.4"/>
<circle cx="186.0" cy="117.7" r="1.4"/>
<circle cx="176.4" cy="119.9" r="1.4"/>
<circle cx="177.1" cy="121.7" r="1.4"/>
<circle cx="178.6" cy="124.9" r="1.4"/>
<circle cx="177.1" cy="126.7" r="1.4"/>
<circle cx="184.3" cy="129.1" r="1.4"/>
<circle cx="177.9" cy="130.3" r="1.4"/>
<circle cx="189.7" cy="132.0" r="1.4"/>
<circle cx="204.0" cy="131.3" r="1.4"/>
<circle cx="198.6" cy="133.4" r="1.4"/>
<circle cx="181.8" cy="136.2" r="1.4"/>
<circle cx="190.4" cy="136.0" r="1.4"/>
<circle cx="192.9" cy="137.0" r="1.4"/>
<circle cx="176.4" cy="137.9" r="1.4"/>
<circle cx="205.4" cy="136.0" r="1.4"/>
<circle cx="195.7" cy="141.4" r="1.4"/>
<circle cx="204.3" cy="143.1" r="1.4"/>
<circle cx="189.0" cy="144.9" r="1.4"/>
<circle cx="185.4" cy="148.4" r="1.4"/>
<circle cx="198.1" cy="147.7" r="1.4"/>
<circle cx="203.3" cy="149.9" r="1.4"/>
<circle cx="180.4" cy="150.3" r="1.4"/>
<circle cx="190.7" cy="152.9" r="1.4"/>
<circle cx="205.4" cy="153.4" r="1.4"/>
<circle cx="203.6" cy="154.9" r="1.4"/>
<circle cx="207.4" cy="157.5" r="1.4"/>
<circle cx="203.9" cy="159.6" r="1.4"/>
<circle cx="200.5" cy="160.8" r="1.4"/>
<circle cx="207.7" cy="163.8" r="1.4"/>
<circle cx="207.1" cy="162.4" r="1.4"/>
<circle cx="210.7" cy="161.7" r="1.4"/>
<circle cx="195.7" cy="166.7" r="1.4"/>
<circle cx="209.3" cy="167.7" r="1.4"/>
<circle cx="212.1" cy="168.9" r="1.4"/>
<circle cx="222.1" cy="166.3" r="1.4"/>
<circle cx="209.6" cy="174.7" r="1.4"/>
<circle cx="211.7" cy="176.4" r="1.4"/>
<circle cx="211.6" cy="194.3" r="1.4"/>
<circle cx="219.3" cy="126.6" r="1.4"/>
<circle cx="213.3" cy="136.1" r="1.4"/>
<circle cx="213.3" cy="138.3" r="1.4"/>
<circle cx="221.9" cy="138.3" r="1.4"/>
<circle cx="214.3" cy="140.9" r="1.4"/>
<circle cx="217.9" cy="141.4" r="1.4"/>
<circle cx="220.7" cy="141.9" r="1.4"/>
<circle cx="223.3" cy="143.7" r="1.4"/>
<circle cx="226.1" cy="144.0" r="1.4"/>
<circle cx="211.4" cy="148.6" r="1.4"/>
<circle cx="215.7" cy="147.6" r="1.4"/>
<circle cx="214.7" cy="151.1" r="1.4"/>
<circle cx="218.9" cy="159.3" r="1.4"/>
<circle cx="240.0" cy="93.6" r="1.4"/>
<circle cx="238.1" cy="94.6" r="1.4"/>
<circle cx="241.9" cy="96.9" r="1.4"/>
<circle cx="250.4" cy="91.4" r="1.4"/>
<circle cx="225.4" cy="101.0" r="1.4"/>
<circle cx="241.7" cy="101.0" r="1.4"/>
<circle cx="228.6" cy="103.3" r="1.4"/>
<circle cx="236.4" cy="103.3" r="1.4"/>
<circle cx="235.0" cy="106.0" r="1.4"/>
<circle cx="234.0" cy="112.9" r="1.4"/>
<circle cx="229.3" cy="116.9" r="1.4"/>
<circle cx="224.3" cy="119.3" r="1.4"/>
<circle cx="219.3" cy="121.7" r="1.4"/>
<circle cx="230.7" cy="121.1" r="1.4"/>
<circle cx="223.3" cy="123.1" r="1.4"/>
<circle cx="225.0" cy="124.3" r="1.4"/>
<circle cx="256.7" cy="63.9" r="1.4"/>
<circle cx="255.7" cy="64.9" r="1.4"/>
<circle cx="250.4" cy="66.0" r="1.4"/>
<circle cx="252.9" cy="67.1" r="1.4"/>
<circle cx="241.4" cy="68.9" r="1.4"/>
<circle cx="251.0" cy="69.8" r="1.4"/>
<circle cx="247.9" cy="71.7" r="1.4"/>
<circle cx="251.9" cy="72.9" r="1.4"/>
<circle cx="250.4" cy="74.6" r="1.4"/>
<circle cx="255.7" cy="80.6" r="1.4"/>
<circle cx="233.9" cy="82.4" r="1.4"/>
<circle cx="237.1" cy="81.7" r="1.4"/>
<circle cx="240.7" cy="82.1" r="1.4"/>
<circle cx="252.1" cy="82.1" r="1.4"/>
<circle cx="239.3" cy="84.9" r="1.4"/>
<circle cx="243.6" cy="85.3" r="1.4"/>
<circle cx="247.1" cy="85.3" r="1.4"/>
<circle cx="250.7" cy="89.1" r="1.4"/>
<circle cx="254.7" cy="88.8" r="1.4"/>
<circle cx="256.5" cy="90.0" r="1.4"/>
<circle cx="264.7" cy="91.0" r="1.4"/>
<circle cx="258.0" cy="91.2" r="1.4"/>
<circle cx="259.5" cy="93.0" r="1.4"/>
<circle cx="256.4" cy="96.3" r="1.4"/>
<circle cx="262.6" cy="98.3" r="1.4"/>
<circle cx="267.1" cy="98.3" r="1.4"/>
<circle cx="260.7" cy="101.1" r="1.4"/>
<circle cx="264.3" cy="101.1" r="1.4"/>
<circle cx="269.3" cy="107.7" r="1.4"/>
<circle cx="267.9" cy="109.1" r="1.4"/>
<circle cx="261.9" cy="112.0" r="1.4"/>
<circle cx="264.3" cy="115.4" r="1.4"/>
<circle cx="268.3" cy="117.7" r="1.4"/>
<circle cx="272.4" cy="128.4" r="1.4"/>
<circle cx="275.7" cy="133.1" r="1.4"/>
<circle cx="277.6" cy="134.9" r="1.4"/>
<circle cx="271.9" cy="139.4" r="1.4"/>
<circle cx="274.7" cy="139.9" r="1.4"/>
<circle cx="269.3" cy="142.4" r="1.4"/>
<circle cx="273.6" cy="144.1" r="1.4"/>
<circle cx="285.0" cy="145.6" r="1.4"/>
<circle cx="280.4" cy="146.6" r="1.4"/>
<circle cx="271.9" cy="148.4" r="1.4"/>
<circle cx="278.6" cy="149.1" r="1.4"/>
<circle cx="273.6" cy="152.3" r="1.4"/>
<circle cx="283.6" cy="153.1" r="1.4"/>
<circle cx="279.0" cy="155.6" r="1.4"/>
<circle cx="297.4" cy="156.3" r="1.4"/>
<circle cx="281.7" cy="162.0" r="1.4"/>
<circle cx="283.1" cy="164.1" r="1.4"/>
<circle cx="303.4" cy="161.4" r="1.4"/>
<circle cx="309.1" cy="161.0" r="1.4"/>
<circle cx="278.1" cy="166.0" r="1.4"/>
<circle cx="307.7" cy="167.4" r="1.4"/>
<circle cx="278.1" cy="170.3" r="1.4"/>
<circle cx="281.3" cy="170.6" r="1.4"/>
<circle cx="288.9" cy="170.0" r="1.4"/>
<circle cx="299.4" cy="177.4" r="1.4"/>
<circle cx="278.1" cy="177.7" r="1.4"/>
<circle cx="292.0" cy="180.3" r="1.4"/>
<circle cx="290.6" cy="181.4" r="1.4"/>
<circle cx="288.4" cy="183.9" r="1.4"/>
<circle cx="301.7" cy="184.6" r="1.4"/>
<circle cx="289.6" cy="186.4" r="1.4"/>
<circle cx="289.1" cy="190.3" r="1.4"/>
<circle cx="296.1" cy="192.7" r="1.4"/>
<circle cx="299.3" cy="194.6" r="1.4"/>
<circle cx="287.1" cy="196.3" r="1.4"/>
<circle cx="294.3" cy="197.7" r="1.4"/>
<circle cx="320.7" cy="127.1" r="1.4"/>
<circle cx="315.4" cy="135.7" r="1.4"/>
<circle cx="312.6" cy="139.6" r="1.4"/>
<circle cx="320.0" cy="142.9" r="1.4"/>
<circle cx="312.1" cy="144.6" r="1.4"/>
<circle cx="319.7" cy="145.3" r="1.4"/>
<circle cx="308.9" cy="148.4" r="1.4"/>
<circle cx="311.4" cy="148.1" r="1.4"/>
<circle cx="320.4" cy="94.1" r="1.4"/>
<circle cx="328.3" cy="95.6" r="1.4"/>
<circle cx="331.7" cy="96.3" r="1.4"/>
<circle cx="326.4" cy="101.7" r="1.4"/>
<circle cx="320.7" cy="106.7" r="1.4"/>
<circle cx="318.6" cy="110.6" r="1.4"/>
<circle cx="322.9" cy="111.7" r="1.4"/>
<circle cx="315.4" cy="118.7" r="1.4"/>
<circle cx="318.3" cy="123.4" r="1.4"/>
<circle cx="321.8" cy="126.0" r="1.4"/>
<circle cx="334.3" cy="63.0" r="1.4"/>
<circle cx="336.9" cy="64.9" r="1.4"/>
<circle cx="335.7" cy="70.1" r="1.4"/>
<circle cx="317.9" cy="73.3" r="1.4"/>
<circle cx="329.3" cy="73.4" r="1.4"/>
<circle cx="330.7" cy="75.1" r="1.4"/>
<circle cx="332.9" cy="77.7" r="1.4"/>
<circle cx="327.9" cy="82.3" r="1.4"/>
<circle cx="331.7" cy="83.7" r="1.4"/>
<circle cx="335.7" cy="84.1" r="1.4"/>
<circle cx="329.0" cy="88.0" r="1.4"/>
<circle cx="334.0" cy="88.7" r="1.4"/>
<circle cx="335.0" cy="43.3" r="1.4"/>
<circle cx="337.4" cy="55.4" r="1.4"/>
<circle cx="336.1" cy="61.1" r="1.4"/>
<circle cx="69.7" cy="91.4" r="1.4"/>
<circle cx="75.9" cy="63.9" r="1.4"/>
<circle cx="74.9" cy="64.9" r="1.4"/>
<circle cx="69.7" cy="66.0" r="1.4"/>
<circle cx="72.2" cy="67.1" r="1.4"/>
<circle cx="70.2" cy="69.8" r="1.4"/>
<circle cx="71.2" cy="72.9" r="1.4"/>
<circle cx="69.7" cy="74.6" r="1.4"/>
<circle cx="74.9" cy="80.6" r="1.4"/>
<circle cx="71.3" cy="82.1" r="1.4"/>
<circle cx="69.9" cy="89.1" r="1.4"/>
<circle cx="73.9" cy="88.8" r="1.4"/>
<circle cx="75.8" cy="90.0" r="1.4"/>
<circle cx="83.9" cy="91.0" r="1.4"/>
<circle cx="77.2" cy="91.2" r="1.4"/>
<circle cx="78.8" cy="93.0" r="1.4"/>
<circle cx="75.6" cy="96.3" r="1.4"/>
<circle cx="81.9" cy="98.3" r="1.4"/>
<circle cx="86.4" cy="98.3" r="1.4"/>
<circle cx="79.9" cy="101.1" r="1.4"/>
<circle cx="83.6" cy="101.1" r="1.4"/>
<circle cx="88.6" cy="107.7" r="1.4"/>
<circle cx="87.1" cy="109.1" r="1.4"/>
<circle cx="81.1" cy="112.0" r="1.4"/>
<circle cx="83.6" cy="115.4" r="1.4"/>
<circle cx="87.6" cy="117.7" r="1.4"/>
<circle cx="91.6" cy="128.4" r="1.4"/>
<circle cx="94.9" cy="133.1" r="1.4"/>
<circle cx="96.9" cy="134.9" r="1.4"/>
<circle cx="91.1" cy="139.4" r="1.4"/>
<circle cx="93.9" cy="139.9" r="1.4"/>
<circle cx="88.6" cy="142.4" r="1.4"/>
<circle cx="92.9" cy="144.1" r="1.4"/>
<circle cx="104.2" cy="145.6" r="1.4"/>
<circle cx="99.6" cy="146.6" r="1.4"/>
<circle cx="91.1" cy="148.4" r="1.4"/>
<circle cx="97.9" cy="149.1" r="1.4"/>
<circle cx="92.9" cy="152.3" r="1.4"/>
<circle cx="102.9" cy="153.1" r="1.4"/>
<circle cx="98.2" cy="155.6" r="1.4"/>
<circle cx="116.6" cy="156.3" r="1.4"/>
<circle cx="100.9" cy="162.0" r="1.4"/>
<circle cx="102.4" cy="164.1" r="1.4"/>
<circle cx="122.6" cy="161.4" r="1.4"/>
<circle cx="128.4" cy="161.0" r="1.4"/>
<circle cx="97.4" cy="166.0" r="1.4"/>
<circle cx="126.9" cy="167.4" r="1.4"/>
<circle cx="97.4" cy="170.3" r="1.4"/>
<circle cx="100.6" cy="170.6" r="1.4"/>
<circle cx="108.1" cy="170.0" r="1.4"/>
<circle cx="118.6" cy="177.4" r="1.4"/>
<circle cx="97.4" cy="177.7" r="1.4"/>
<circle cx="111.2" cy="180.3" r="1.4"/>
<circle cx="109.9" cy="181.4" r="1.4"/>
<circle cx="107.6" cy="183.9" r="1.4"/>
<circle cx="120.9" cy="184.6" r="1.4"/>
<circle cx="108.9" cy="186.4" r="1.4"/>
<circle cx="108.4" cy="190.3" r="1.4"/>
<circle cx="115.4" cy="192.7" r="1.4"/>
<circle cx="118.6" cy="194.6" r="1.4"/>
<circle cx="106.4" cy="196.3" r="1.4"/>
<circle cx="113.6" cy="197.7" r="1.4"/>
<circle cx="139.9" cy="127.1" r="1.4"/>
<circle cx="134.6" cy="135.7" r="1.4"/>
<circle cx="131.9" cy="139.6" r="1.4"/>
<circle cx="139.2" cy="142.9" r="1.4"/>
<circle cx="131.4" cy="144.6" r="1.4"/>
<circle cx="138.9" cy="145.3" r="1.4"/>
<circle cx="128.1" cy="148.4" r="1.4"/>
<circle cx="130.6" cy="148.1" r="1.4"/>
<circle cx="139.6" cy="94.1" r="1.4"/>
<circle cx="147.6" cy="95.6" r="1.4"/>
<circle cx="150.9" cy="96.3" r="1.4"/>
<circle cx="145.6" cy="101.7" r="1.4"/>
<circle cx="139.9" cy="106.7" r="1.4"/>
<circle cx="137.9" cy="110.6" r="1.4"/>
<circle cx="142.1" cy="111.7" r="1.4"/>
<circle cx="134.6" cy="118.7" r="1.4"/>
<circle cx="137.6" cy="123.4" r="1.4"/>
<circle cx="141.1" cy="126.0" r="1.4"/>
<circle cx="153.6" cy="63.0" r="1.4"/>
<circle cx="156.1" cy="64.9" r="1.4"/>
<circle cx="154.9" cy="70.1" r="1.4"/>
<circle cx="137.1" cy="73.3" r="1.4"/>
<circle cx="148.6" cy="73.4" r="1.4"/>
<circle cx="149.9" cy="75.1" r="1.4"/>
<circle cx="152.1" cy="77.7" r="1.4"/>
<circle cx="147.1" cy="82.3" r="1.4"/>
<circle cx="150.9" cy="83.7" r="1.4"/>
<circle cx="154.9" cy="84.1" r="1.4"/>
<circle cx="148.2" cy="88.0" r="1.4"/>
<circle cx="153.2" cy="88.7" r="1.4"/>
<circle cx="154.2" cy="43.3" r="1.4"/>
<circle cx="156.6" cy="55.4" r="1.4"/>
<circle cx="155.4" cy="61.1" r="1.4"/>
<circle cx="317.3" cy="36.3" r="1.4"/>
</g>
<rect class="ax" x="59.75" y="0.5" width="289.65" height="214.9"/>
<path class="tk" d="M87.40 215.4 V211.9 M87.40 0.5 V4.0"/>
<path class="tk" d="M123.55 215.4 V211.9 M123.55 0.5 V4.0"/>
<path class="tk" d="M159.70 215.4 V211.9 M159.70 0.5 V4.0"/>
<path class="tk" d="M195.85 215.4 V211.9 M195.85 0.5 V4.0"/>
<path class="tk" d="M232.00 215.4 V211.9 M232.00 0.5 V4.0"/>
<path class="tk" d="M268.15 215.4 V211.9 M268.15 0.5 V4.0"/>
<path class="tk" d="M304.30 215.4 V211.9 M304.30 0.5 V4.0"/>
<path class="tk" d="M340.45 215.4 V211.9 M340.45 0.5 V4.0"/>
<path class="tk" d="M59.75 29.50 H63.25 M349.4 29.50 H345.9"/>
<path class="tk" d="M59.75 65.30 H63.25 M349.4 65.30 H345.9"/>
<path class="tk" d="M59.75 101.10 H63.25 M349.4 101.10 H345.9"/>
<path class="tk" d="M59.75 136.90 H63.25 M349.4 136.90 H345.9"/>
<path class="tk" d="M59.75 172.70 H63.25 M349.4 172.70 H345.9"/>
<path class="tk" d="M59.75 208.50 H63.25 M349.4 208.50 H345.9"/>
<text transform="translate(87.30 233.00) scale(0.97 1)" text-anchor="middle">-0.4</text>
<text transform="translate(123.60 233.00) scale(0.97 1)" text-anchor="middle">-0.2</text>
<text transform="translate(161.20 233.00) scale(0.97 1)" text-anchor="middle">0</text>
<text transform="translate(197.20 233.00) scale(0.97 1)" text-anchor="middle">0.2</text>
<text transform="translate(233.40 233.00) scale(0.97 1)" text-anchor="middle">0.4</text>
<text transform="translate(270.00 233.00) scale(0.97 1)" text-anchor="middle">0.6</text>
<text transform="translate(306.00 233.00) scale(0.97 1)" text-anchor="middle">0.8</text>
<text transform="translate(342.20 233.00) scale(0.97 1)" text-anchor="middle">1</text>
<text transform="translate(51.50 33.80) scale(0.865 1)" text-anchor="end">16.45</text>
<text transform="translate(51.50 69.60) scale(0.865 1)" text-anchor="end">16.50</text>
<text transform="translate(51.50 105.40) scale(0.865 1)" text-anchor="end">16.55</text>
<text transform="translate(51.50 141.20) scale(0.865 1)" text-anchor="end">16.60</text>
<text transform="translate(51.50 177.00) scale(0.865 1)" text-anchor="end">16.65</text>
<text transform="translate(51.50 212.80) scale(0.865 1)" text-anchor="end">16.70</text>
<text transform="translate(204.50 251.50) scale(0.94 1)" text-anchor="middle">Orbit Phase</text>
<text transform="translate(6.00 120.40) rotate(-90) scale(0.835 1)" text-anchor="start">mag.</text>
<text transform="translate(291.60 14.60) scale(0.91 1)" text-anchor="end">B - 0.727</text>
<text transform="translate(291.60 27.30) scale(0.91 1)" text-anchor="end">V</text>
<text transform="translate(291.60 40.20) scale(0.93 1)" text-anchor="end">I + 0.958</text>
</svg></body></html>
